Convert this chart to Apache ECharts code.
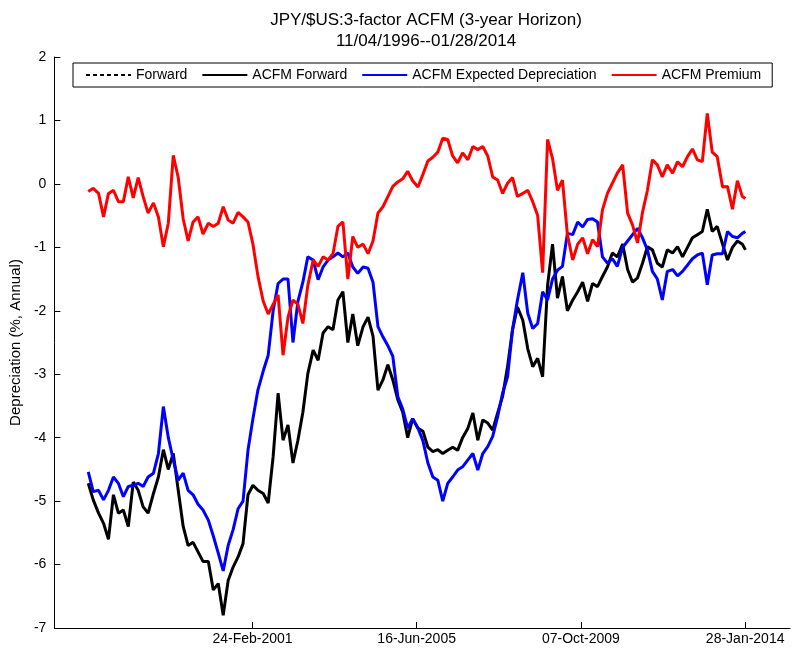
<!DOCTYPE html>
<html>
<head>
<meta charset="utf-8">
<script src="https://cdn.jsdelivr.net/npm/echarts@6/dist/echarts.min.js"></script>
<style>
  html, body { margin: 0; padding: 0; background: #fff; }
  #chart { width: 795px; height: 654px; }
</style>
</head>
<body>
<div id="chart"></div>
<script>
// sample dates, decimal years (11/04/1996 .. 01/28/2014)
const years = [
  1996.84, 1996.97, 1997.11, 1997.24, 1997.37, 1997.50, 1997.63, 1997.76, 1997.89, 1998.02,
  1998.15, 1998.28, 1998.41, 1998.55, 1998.68, 1998.81, 1998.94, 1999.07, 1999.20, 1999.33,
  1999.46, 1999.59, 1999.72, 1999.85, 1999.99, 2000.12, 2000.25, 2000.38, 2000.51, 2000.64,
  2000.77, 2000.90, 2001.03, 2001.16, 2001.29, 2001.43, 2001.56, 2001.69, 2001.82, 2001.95,
  2002.08, 2002.21, 2002.34, 2002.47, 2002.60, 2002.74, 2002.87, 2003.00, 2003.13, 2003.26,
  2003.39, 2003.52, 2003.65, 2003.78, 2003.91, 2004.05, 2004.18, 2004.31, 2004.44, 2004.57,
  2004.70, 2004.83, 2004.96, 2005.09, 2005.22, 2005.35, 2005.49, 2005.62, 2005.75, 2005.88,
  2006.01, 2006.14, 2006.27, 2006.40, 2006.53, 2006.66, 2006.80, 2006.93, 2007.06, 2007.19,
  2007.32, 2007.45, 2007.58, 2007.71, 2007.84, 2007.97, 2008.10, 2008.24, 2008.37, 2008.50,
  2008.63, 2008.76, 2008.89, 2009.02, 2009.15, 2009.28, 2009.41, 2009.55, 2009.68, 2009.81,
  2009.94, 2010.07, 2010.20, 2010.33, 2010.46, 2010.59, 2010.72, 2010.86, 2010.99, 2011.12,
  2011.25, 2011.38, 2011.51, 2011.64, 2011.77, 2011.90, 2012.03, 2012.17, 2012.30, 2012.43,
  2012.56, 2012.69, 2012.82, 2012.95, 2013.08, 2013.21, 2013.34, 2013.48, 2013.61, 2013.74,
  2013.87, 2014.00, 2014.08
];

const acfmForward = [
  -4.72, -4.98, -5.19, -5.35, -5.60, -4.90, -5.19, -5.14, -5.40, -4.70,
  -4.83, -5.09, -5.19, -4.88, -4.62, -4.19, -4.50, -4.25, -4.83, -5.40,
  -5.70, -5.65, -5.80, -5.95, -5.95, -6.40, -6.30, -6.80, -6.25, -6.04,
  -5.88, -5.67, -4.90, -4.75, -4.83, -4.88, -5.03, -4.30, -3.30, -4.04,
  -3.80, -4.40, -4.04, -3.60, -2.99, -2.62, -2.78, -2.35, -2.25, -2.30,
  -1.83, -1.70, -2.50, -2.05, -2.55, -2.25, -2.10, -2.40, -3.25, -3.09,
  -2.85, -3.09, -3.40, -3.60, -4.00, -3.70, -3.85, -3.90, -4.15, -4.22,
  -4.19, -4.25, -4.20, -4.15, -4.20, -4.00, -3.85, -3.61, -4.04, -3.72,
  -3.77, -3.88, -3.61, -3.35, -2.88, -2.30, -1.94, -2.15, -2.60, -2.88,
  -2.75, -3.04, -1.60, -0.95, -1.80, -1.46, -2.00, -1.83, -1.70, -1.55,
  -1.85, -1.57, -1.62, -1.46, -1.31, -1.09, -1.15, -0.95, -1.35, -1.55,
  -1.48, -1.25, -0.99, -1.04, -1.25, -1.31, -1.04, -1.09, -0.99, -1.15,
  -1.00, -0.85, -0.80, -0.75, -0.40, -0.75, -0.67, -0.95, -1.20, -1.00,
  -0.90, -0.95, -1.04
];

// the plain forward rate lies on top of the ACFM forward almost everywhere
const forward = acfmForward;

const expectedDep = [
  -4.54, -4.85, -4.83, -4.98, -4.83, -4.62, -4.72, -4.93, -4.77, -4.75,
  -4.72, -4.77, -4.62, -4.56, -4.25, -3.51, -4.00, -4.35, -4.67, -4.56,
  -4.83, -4.90, -5.05, -5.14, -5.30, -5.55, -5.82, -6.10, -5.70, -5.45,
  -5.12, -5.00, -4.20, -3.70, -3.25, -2.95, -2.70, -2.00, -1.57, -1.50,
  -1.50, -2.50, -1.85, -1.55, -1.15, -1.20, -1.51, -1.31, -1.20, -1.15,
  -1.09, -1.15, -1.09, -1.31, -1.41, -1.31, -1.33, -1.55, -2.25, -2.41,
  -2.55, -2.72, -3.35, -3.55, -3.85, -3.70, -3.85, -4.05, -4.40, -4.62,
  -4.67, -5.00, -4.72, -4.62, -4.51, -4.46, -4.35, -4.25, -4.51, -4.25,
  -4.14, -3.98, -3.67, -3.30, -3.04, -2.30, -1.83, -1.40, -2.04, -2.28,
  -2.20, -1.70, -1.83, -1.50, -1.36, -1.30, -0.78, -0.80, -0.60, -0.68,
  -0.56, -0.55, -0.60, -1.15, -1.25, -1.18, -1.30, -1.00, -0.90, -0.80,
  -0.70, -0.85, -1.04, -1.38, -1.50, -1.83, -1.38, -1.35, -1.45, -1.38,
  -1.28, -1.18, -1.12, -1.09, -1.59, -1.12, -1.10, -1.10, -0.75, -0.83,
  -0.85, -0.78, -0.75
];

const premium = [
  -0.12, -0.07, -0.15, -0.52, -0.15, -0.10, -0.28, -0.28, 0.11, -0.22,
  0.10, -0.20, -0.46, -0.30, -0.52, -0.99, -0.62, 0.45, 0.10, -0.55,
  -0.90, -0.60, -0.52, -0.79, -0.62, -0.67, -0.62, -0.36, -0.57, -0.62,
  -0.45, -0.52, -0.60, -0.95, -1.45, -1.85, -2.05, -1.90, -1.75, -2.70,
  -2.10, -1.83, -1.90, -2.20, -1.60, -1.20, -1.30, -1.15, -1.20, -1.10,
  -0.67, -0.60, -1.50, -0.83, -1.00, -0.95, -1.10, -0.90, -0.46, -0.36,
  -0.20, -0.04, 0.03, 0.08, 0.20, 0.05, -0.05, 0.15, 0.36, 0.42,
  0.50, 0.72, 0.70, 0.44, 0.33, 0.49, 0.38, 0.59, 0.54, 0.59,
  0.44, 0.11, 0.06, -0.15, 0.01, 0.10, -0.20, -0.15, -0.10, -0.28,
  -0.50, -1.40, 0.70, 0.40, -0.10, 0.06, -0.80, -1.20, -0.95, -0.85,
  -1.10, -0.88, -0.99, -0.41, -0.15, 0.01, 0.17, 0.30, -0.46, -0.65,
  -0.93, -0.45, -0.10, 0.38, 0.30, 0.11, 0.30, 0.17, 0.35, 0.27,
  0.43, 0.55, 0.38, 0.35, 1.11, 0.50, 0.43, -0.05, -0.04, -0.40,
  0.05, -0.20, -0.23
];

const tickYears = [2001.148, 2005.455, 2009.764, 2014.074];
const tickLabels = ['24-Feb-2001', '16-Jun-2005', '07-Oct-2009', '28-Jan-2014'];

const pair = vals => years.map((t, i) => [t, vals[i]]);
const font = 'Liberation Sans, Arial, Helvetica, sans-serif';

const chart = echarts.init(document.getElementById('chart'), null, { renderer: 'canvas' });

chart.setOption({
  animation: false,
  backgroundColor: '#fff',
  title: {
    text: 'JPY/$US:3-factor ACFM (3-year Horizon)\n11/04/1996--01/28/2014',
    left: 421,
    top: 5,
    textAlign: 'center',
    textStyle: { fontFamily: font, fontSize: 17, fontWeight: 'normal', color: '#000', lineHeight: 21 }
  },
  legend: {
    left: 73,
    top: 63,
    orient: 'horizontal',
    padding: [5, 11, 5, 12],
    itemWidth: 45,
    itemHeight: 14,
    itemGap: 14,
    borderColor: '#000',
    borderWidth: 1,
    borderRadius: 0,
    backgroundColor: '#fff',
    // hide the marker dot, keep only the line sample
    itemStyle: { opacity: 0 },
    textStyle: { fontFamily: font, fontSize: 14, color: '#000' },
    data: ['Forward', 'ACFM Forward', 'ACFM Expected Depreciation', 'ACFM Premium']
  },
  grid: { left: 53, right: 5, top: 57, bottom: 26, containLabel: false },
  xAxis: {
    type: 'value',
    min: 1995.95,
    max: 2015.25,
    splitLine: { show: false },
    axisLine: { onZero: false, lineStyle: { color: '#000', width: 1 } },
    axisTick: { inside: true, length: 6, customValues: tickYears, lineStyle: { color: '#000' } },
    axisLabel: {
      customValues: tickYears,
      margin: 4,
      color: '#000',
      fontFamily: font,
      fontSize: 14,
      formatter: v => {
        const k = tickYears.findIndex(t => Math.abs(t - v) < 0.01);
        return k < 0 ? '' : tickLabels[k];
      }
    }
  },
  yAxis: {
    type: 'value',
    min: -7,
    max: 2,
    interval: 1,
    name: 'Depreciation (%, Annual)',
    nameLocation: 'middle',
    nameGap: 27,
    nameTextStyle: { fontFamily: font, fontSize: 15, color: '#000' },
    splitLine: { show: false },
    axisLine: { show: true, lineStyle: { color: '#000', width: 1 } },
    axisTick: { show: true, inside: true, length: 6, lineStyle: { color: '#000' } },
    axisLabel: { color: '#000', fontFamily: font, fontSize: 14, margin: 8 }
  },
  series: [
    {
      name: 'Forward', type: 'line', data: pair(forward), symbol: 'none', showSymbol: false,
      lineStyle: { color: '#000', width: 1, type: [4, 3] }, itemStyle: { color: '#000' }
    },
    {
      name: 'ACFM Forward', type: 'line', data: pair(acfmForward), symbol: 'none', showSymbol: false,
      lineStyle: { color: '#000', width: 3 }, itemStyle: { color: '#000' }
    },
    {
      name: 'ACFM Expected Depreciation', type: 'line', data: pair(expectedDep), symbol: 'none', showSymbol: false,
      lineStyle: { color: '#0000ff', width: 3 }, itemStyle: { color: '#0000ff' }
    },
    {
      name: 'ACFM Premium', type: 'line', data: pair(premium), symbol: 'none', showSymbol: false,
      lineStyle: { color: '#ff0000', width: 3 }, itemStyle: { color: '#ff0000' }
    }
  ]
});
</script>
</body>
</html>
